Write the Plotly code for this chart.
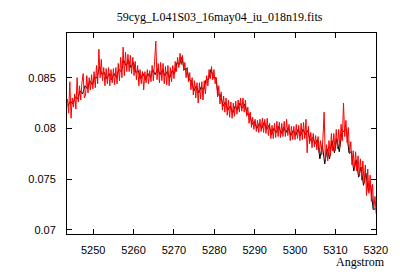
import numpy as np
import plotly.graph_objects as go

# Spectrum sampling grids (Angstrom)
red_start, red_step = 5243.6, 0.3
black_start, black_step = 5243.75, 0.6

# Flux values in units of 1e-5
red_flux_e5 = [
    8290, 8150, 8460, 8100, 8300, 8210, 8340, 8190, 8500, 8260,
    8420, 8280, 8450, 8540, 8300, 8330, 8520, 8350, 8500, 8380,
    8530, 8390, 8560, 8400, 8620, 8440, 8780, 8500, 8680, 8470,
    8600, 8420, 8590, 8440, 8600, 8420, 8580, 8450, 8590, 8430,
    8600, 8440, 8640, 8470, 8700, 8500, 8800, 8520, 8750, 8560,
    8730, 8560, 8720, 8540, 8700, 8520, 8660, 8480, 8620, 8420,
    8580, 8440, 8560, 8380, 8560, 8450, 8580, 8440, 8570, 8460,
    8620, 8470, 8660, 8860, 8480, 8640, 8450, 8650, 8470, 8640,
    8440, 8610, 8430, 8620, 8420, 8600, 8460, 8620, 8490, 8660,
    8560, 8700, 8600, 8740, 8630, 8720, 8570, 8650, 8500, 8600,
    8460, 8550, 8380, 8500, 8330, 8470, 8300, 8450, 8250, 8450,
    8290, 8460, 8280, 8470, 8340, 8520, 8420, 8580, 8490, 8610,
    8480, 8580, 8440, 8500, 8310, 8420, 8240, 8360, 8180, 8320,
    8160, 8300, 8130, 8280, 8110, 8260, 8100, 8250, 8120, 8270,
    8140, 8280, 8160, 8300, 8170, 8300, 8160, 8280, 8120, 8210,
    8050, 8160, 8010, 8110, 7990, 8090, 7970, 8080, 7960, 8090,
    7970, 8100, 7960, 8090, 7950, 8100, 7930, 8050, 7900, 8030,
    7900, 8050, 7910, 8070, 7920, 8060, 7910, 8050, 7920, 8070,
    7920, 8090, 7930, 8040, 7880, 8020, 7890, 8020, 7890, 8040,
    7900, 8030, 7880, 8050, 7890, 8060, 7900, 8090, 7760, 8020,
    7850, 7960, 7810, 7950, 7820, 7930, 7790, 7920, 7760, 7880,
    7740, 7900, 8160, 7690, 7840, 7680, 7880, 7730, 7950, 7780,
    7950, 7780, 7990, 7800, 7990, 7820, 8040, 7880, 8250, 7920,
    8080, 7860, 8010, 7750, 7870, 7640, 7780, 7600, 7770, 7580,
    7730, 7530, 7700, 7490, 7680, 7460, 7640, 7340, 7600, 7360,
    7540, 7280, 7450, 7200, 7330, 7160,
]

black_flux_e5 = [
    8220, 8270, 8240, 8310, 8290, 8370, 8340, 8420, 8390, 8470,
    8430, 8500, 8500, 8610, 8530, 8550, 8490, 8540, 8480, 8540,
    8500, 8580, 8560, 8670, 8620, 8670, 8600, 8650, 8550, 8570,
    8490, 8540, 8480, 8540, 8500, 8580, 8530, 8590, 8530, 8580,
    8520, 8560, 8500, 8570, 8540, 8650, 8630, 8700, 8580, 8590,
    8480, 8470, 8370, 8420, 8350, 8410, 8380, 8480, 8480, 8580,
    8500, 8500, 8330, 8330, 8220, 8260, 8180, 8220, 8150, 8220,
    8180, 8250, 8200, 8240, 8140, 8140, 8040, 8070, 8000, 8050,
    8000, 8060, 7990, 8030, 7940, 8000, 7960, 8020, 7950, 8010,
    7960, 8010, 7930, 7980, 7930, 7990, 7930, 7990, 7940, 7980,
    7880, 7910, 7850, 7890, 7700, 7840, 7650, 7800, 7700, 7880,
    7760, 7900, 7770, 7950, 7980, 7990, 7760, 7770, 7580, 7690,
    7520, 7620, 7440, 7560, 7380, 7440, 7200, 7210,
]

x_ticks = [5250, 5260, 5270, 5280, 5290, 5300, 5310, 5320]
y_ticks = [0.07, 0.075, 0.08, 0.085]

red_wl = red_start + red_step * np.arange(len(red_flux_e5))
black_wl = black_start + black_step * np.arange(len(black_flux_e5))
red_flux = np.array(red_flux_e5) / 1e5
black_flux = np.array(black_flux_e5) / 1e5

fig = go.Figure()
fig.add_trace(go.Scatter(x=black_wl, y=black_flux, mode="lines",
                         line=dict(color="black", width=1), hoverinfo="skip"))
fig.add_trace(go.Scatter(x=red_wl, y=red_flux, mode="lines",
                         line=dict(color="#ff0000", width=1), hoverinfo="skip"))

tick_font = dict(family="Liberation Sans", size=11, color="black")

fig.update_layout(
    width=400, height=280,
    margin=dict(l=67, r=19, t=33, b=46),
    paper_bgcolor="white", plot_bgcolor="white",
    showlegend=False,
    title=dict(text="59cyg_L041S03_16may04_iu_018n19.fits",
               font=dict(family="Liberation Serif", size=12, color="black"),
               x=0.549, xanchor="center", y=0.94, yanchor="middle"),
    xaxis=dict(range=[5243.5, 5320.05], tickvals=x_ticks,
               ticktext=[str(v) for v in x_ticks],
               ticks="inside", ticklen=5, tickcolor="black",
               showline=True, linecolor="black", linewidth=1, mirror="ticks",
               showgrid=False, zeroline=False, ticklabelstandoff=6,
               tickfont=tick_font),
    yaxis=dict(range=[0.0696, 0.0894], tickvals=y_ticks,
               ticktext=[str(v) for v in y_ticks],
               ticks="inside", ticklen=5, tickcolor="black",
               showline=True, linecolor="black", linewidth=1, mirror="ticks",
               showgrid=False, zeroline=False, ticklabelstandoff=8,
               tickfont=tick_font),
    annotations=[dict(text="Angstrom", xref="paper", yref="paper",
                      x=1.035, y=-0.139, xanchor="right", yanchor="middle",
                      showarrow=False,
                      font=dict(family="Liberation Serif", size=12, color="black"))],
)

fig.write_html("out.html")
